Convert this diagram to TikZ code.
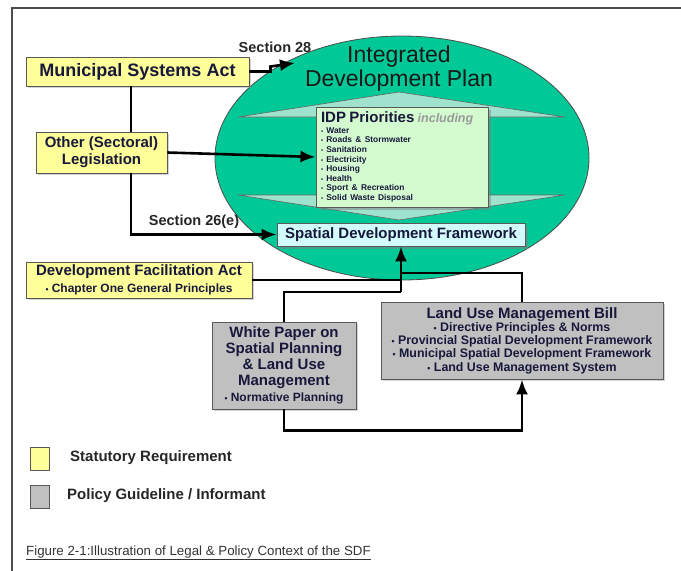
\documentclass[tikz,border=0pt]{standalone}
\usepackage{fontspec}
\setmainfont{Liberation Sans}
\usetikzlibrary{shapes.geometric,shadows,arrows.meta}
\definecolor{statyellow}{HTML}{FFFF99}
\definecolor{policygray}{HTML}{C0C0C0}
\definecolor{idpgreen}{HTML}{00C896}
\definecolor{bandteal}{HTML}{9FE3CF}
\definecolor{prioritygreen}{HTML}{D4FBCF}
\definecolor{sdfcyan}{HTML}{D2FBFB}
\definecolor{inkblue}{HTML}{18183C}
\newcommand\fsz[2]{\fontsize{#1}{#2}\selectfont}
\newcommand\dotitem{\scalebox{0.7}{\textbullet}\ }
\tikzset{
  boxline/.style={draw=black!65, line width=0.9pt, inner sep=0pt, align=center, text=inkblue},
  statbox/.style={boxline, fill=statyellow, drop shadow={shadow xshift=2pt, shadow yshift=-2pt, fill=black!35}},
  policybox/.style={boxline, fill=policygray, drop shadow={shadow xshift=2pt, shadow yshift=-2pt, fill=black!35}},
  innerbox/.style={boxline, drop shadow={shadow xshift=3pt, shadow yshift=-3pt, fill=black!50}},
  keybox/.style={draw=black!65, line width=0.9pt, minimum width=19pt, minimum height=23pt, inner sep=0pt},
  flow/.style={line width=2.6pt},
  flowarrow/.style={flow, -{Latex[length=15pt,width=12pt]}},
  seclabel/.style={font=\fsz{14.5}{16}\bfseries, text=black!85, inner sep=0pt}
}

\begin{document}
\begin{tikzpicture}[x=1pt,y=-1pt]
  \useasboundingbox (0,0) rectangle (681,571);
  % page frame
  \draw[black!70, line width=1.2pt] (12,571) -- (12,8) -- (681,8);

  % the IDP ellipse
  \node[ellipse, draw=black!70, line width=0.8pt, fill=idpgreen, minimum width=374pt, minimum height=244pt] (idp) at (402,158) {};
  \fill[bandteal, draw=black!60, line width=0.6pt] (238,117) -- (399,92) -- (565,117) -- cycle;
  \fill[bandteal, draw=black!60, line width=0.6pt] (238,195) -- (565,195) -- (399,220) -- cycle;
  \node[align=center, font=\fsz{23}{24}, text=black!90] (idptitle) at (399,69) {Integrated\\Development Plan};

  \node[innerbox, fill=prioritygreen, minimum width=172pt, minimum height=100pt, text width=162pt, align=left] (prio) at (402,157)
    {{\fsz{15}{15}\bfseries IDP Priorities} {\fsz{12.5}{15}\bfseries\itshape\color{black!40} including}\\[1pt]
     {\fsz{8.4}{9.6}\bfseries
      \dotitem Water\\
      \dotitem Roads \& Stormwater\\
      \dotitem Sanitation\\
      \dotitem Electricity\\
      \dotitem Housing\\
      \dotitem Health\\
      \dotitem Sport \& Recreation\\
      \dotitem Solid Waste Disposal\par}};
  \node[innerbox, fill=sdfcyan, minimum width=248pt, minimum height=23pt, font=\fsz{15}{16}\bfseries] (sdf) at (401,234.5) {Spatial Development Framework};

  % statutory boxes
  \node[statbox, minimum width=223pt, minimum height=29pt, font=\fsz{18}{20}\bfseries] (msa) at (137.5,71.5) {Municipal Systems Act};
  \node[statbox, minimum width=131pt, minimum height=41pt, font=\fsz{15}{17}\bfseries] (other) at (101.5,152.5) {Other (Sectoral)\\Legislation};
  \node[statbox, minimum width=226pt, minimum height=36pt, font=\fsz{12}{17}\bfseries] (dfa) at (139,280)
    {{\fsz{15}{17}\bfseries Development Facilitation Act}\\\dotitem Chapter One General Principles};

  % policy boxes
  \node[policybox, minimum width=144pt, minimum height=87pt, font=\fsz{15}{16}\bfseries] (wp) at (284,365.5)
    {White Paper on\\Spatial Planning\\\& Land Use\\Management\\{\fsz{12}{15}\bfseries\dotitem Normative Planning}};
  \node[policybox, minimum width=282pt, minimum height=77pt, font=\fsz{12.4}{13.3}\bfseries] (lumb) at (522,340.5)
    {{\fsz{15}{16}\bfseries Land Use Management Bill}\\
     \dotitem Directive Principles \& Norms\\
     \dotitem Provincial Spatial Development Framework\\
     \dotitem Municipal Spatial Development Framework\\
     \dotitem Land Use Management System};

  % connectors
  \coordinate (trunk) at (131,0);
  \coordinate (s28) at (295,63);
  \coordinate (merge) at (401,292);
  \draw[flowarrow] (msa.east) -- ++(21,0) -- ++(0,-5) -- (s28);
  \draw[flow] (trunk |- msa.south) -- (trunk |- other.north);
  \draw[flowarrow] (trunk |- other.south) |- (sdf.west);
  \draw[flowarrow] (other.east) -- (prio.west);
  \draw[flow] (dfa.east) -- (dfa.east -| merge);
  \draw[flow] (lumb.north) |- (merge |- 0,273);
  \draw[flow] (wp.north) |- (merge);
  \draw[flowarrow] (merge) -- (sdf.south);
  \draw[flowarrow] (wp.south) -- ++(0,21) -| (lumb.south);

  \node[seclabel] (sec28) at (275,47) {Section 28};
  \node[seclabel] (sec26) at (194,222) {Section 26(e)};

  % key
  \node[keybox, fill=statyellow] (keystat) at (39.5,458.5) {};
  \node[keybox, fill=policygray] (keypol) at (39.5,496.5) {};
  \node[anchor=west, font=\fsz{15}{16}\bfseries, text=black!85, inner sep=0pt] (keystattxt) at (70,458) {Statutory Requirement};
  \node[anchor=west, font=\fsz{15}{16}\bfseries, text=black!85, inner sep=0pt] (keypoltxt) at (67,496) {Policy Guideline / Informant};

  \node[anchor=west, font=\fsz{13.3}{15}, text=black!80, inner sep=0pt] (caption) at (26,553) {\underline{Figure 2-1:Illustration of Legal \& Policy Context of the SDF}};
\end{tikzpicture}
\end{document}
